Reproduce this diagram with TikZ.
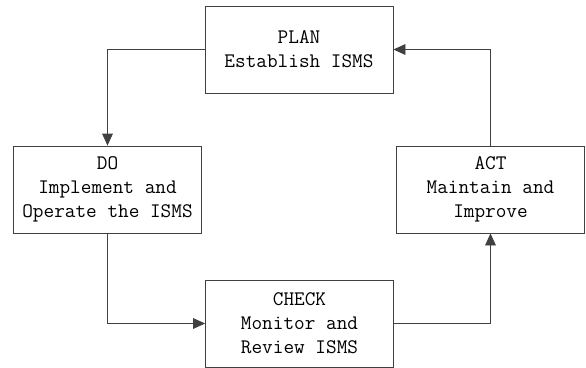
\documentclass[tikz,border=0pt]{standalone}
\usepackage{tikz}
\usetikzlibrary{arrows.meta}

\begin{document}
\begin{tikzpicture}[x=0.75pt, y=-0.75pt,
    phase/.style={draw=black!75, line width=0.6pt, minimum width=141pt,
        minimum height=65.25pt, align=center, inner sep=0pt,
        font=\ttfamily\fontsize{15.5}{18}\selectfont},
    flow/.style={draw=black!75, line width=0.6pt,
        -{Triangle[length=9pt,width=8pt]}}]

            % Cornice
            \useasboundingbox (0,0) rectangle (586,368);

            % Fasi
            \node[phase] (plan)  at (299,49.5)  {PLAN\\Establish ISMS};
            \node[phase] (do)    at (107.5,189.5) {DO\\Implement and\\Operate the ISMS};
            \node[phase] (act)   at (490.5,189.5) {ACT\\Maintain and\\Improve};
            \node[phase] (check) at (299.5,323.5) {CHECK\\Monitor and\\Review ISMS};

            % Frecce
            \draw[flow] (plan.west) -| (do.north);
            \draw[flow] (do.south) |- (check.west);
            \draw[flow] (check.east) -| (act.south);
            \draw[flow] (act.north) |- (plan.east);

        \end{tikzpicture}
\end{document}
